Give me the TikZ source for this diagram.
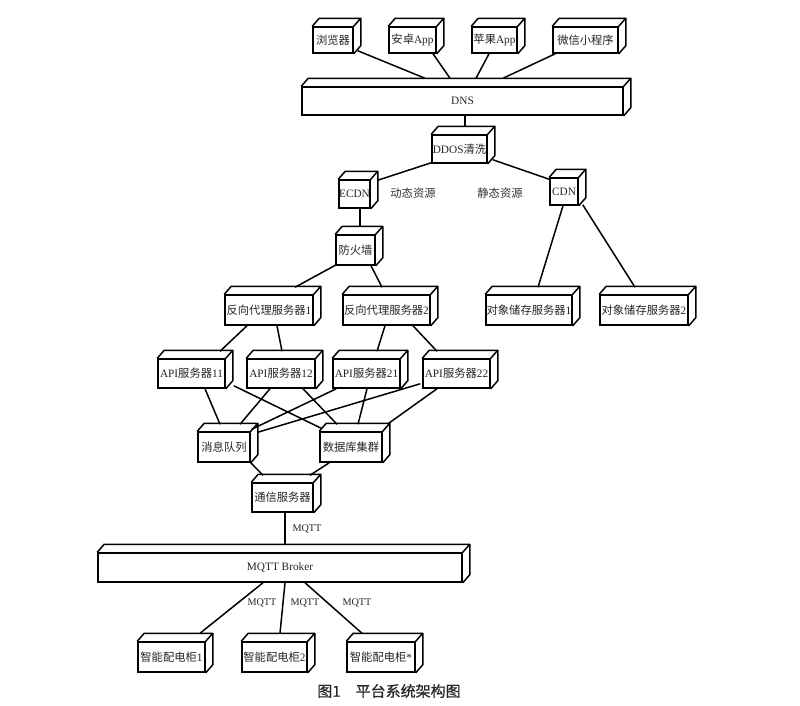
\documentclass[tikz,border=0pt]{standalone}
\usepackage{fontspec}
\setmainfont{Liberation Serif}
\newfontfamily\cjk{Noto Sans CJK SC}
\newfontfamily\capfont[FakeBold=0.6]{Noto Sans CJK SC}
\usetikzlibrary{calc}
\newcommand\lbl{\fontsize{11.3}{13}\selectfont}
\newcommand\mylbl{\fontsize{10.2}{12}\selectfont}
\newcommand\cubeparts[1]{%
  \draw[edge] (#1.north west) -- ++(7,-8) -- ($(#1.north east)+(7,-8)$) -- ($(#1.south east)+(7,-8)$) -- (#1.south east);
  \draw[edge] (#1.north east) -- ++(7,-8);}
\tikzset{
  cube/.style={draw, line width=1.5pt, inner sep=0pt, font=\lbl, fill=white, text=black!85},
  edge/.style={line width=1.5pt, line join=round},
  mqlabel/.style={font=\mylbl, text=black!85, inner sep=0pt},
  restext/.style={font=\lbl\cjk, text=black!80, inner sep=0pt}
}
\begin{document}
\begin{tikzpicture}[x=1pt,y=-1pt]
\useasboundingbox[fill=white] (0,0) rectangle (800,705);
% clients
\node[cube, minimum width=40pt, minimum height=26pt] (browser) at (333,40) {{\cjk 浏览器}};
\node[cube, minimum width=47pt, minimum height=26pt] (android) at (412.5,40) {{\cjk 安卓}App};
\node[cube, minimum width=45pt, minimum height=26pt] (apple) at (494.5,40) {{\cjk 苹果}App};
\node[cube, minimum width=65pt, minimum height=26pt] (wechat) at (585.5,40) {{\cjk 微信小程序}};
\node[cube, minimum width=321pt, minimum height=28pt] (dns) at (462.5,101) {DNS};
\node[cube, minimum width=55pt, minimum height=28pt] (ddos) at (459.5,149) {DDOS{\cjk 清洗}};
\node[cube, minimum width=31pt, minimum height=28pt] (ecdn) at (354.5,194) {ECDN};
\node[cube, minimum width=28pt, minimum height=27pt] (cdn) at (564,191.5) {CDN};
\node[cube, minimum width=39pt, minimum height=30pt] (fw) at (355.5,250) {{\cjk 防火墙}};
\node[cube, minimum width=88pt, minimum height=30pt] (rp1) at (269,310) {{\cjk 反向代理服务器}1};
\node[cube, minimum width=87pt, minimum height=30pt] (rp2) at (386.5,310) {{\cjk 反向代理服务器}2};
\node[cube, minimum width=86pt, minimum height=30pt] (os1) at (529,310) {{\cjk 对象储存服务器}1};
\node[cube, minimum width=88pt, minimum height=30pt] (os2) at (644,310) {{\cjk 对象储存服务器}2};
\node[cube, minimum width=67pt, minimum height=29pt] (api11) at (191.5,373.5) {API{\cjk 服务器}11};
\node[cube, minimum width=68pt, minimum height=29pt] (api12) at (281,373.5) {API{\cjk 服务器}12};
\node[cube, minimum width=67pt, minimum height=29pt] (api21) at (366.5,373.5) {API{\cjk 服务器}21};
\node[cube, minimum width=67pt, minimum height=29pt] (api22) at (456.5,373.5) {API{\cjk 服务器}22};
\node[cube, minimum width=52pt, minimum height=30pt] (mq) at (224,447) {{\cjk 消息队列}};
\node[cube, minimum width=62pt, minimum height=30pt] (db) at (351,447) {{\cjk 数据库集群}};
\node[cube, minimum width=61pt, minimum height=29pt] (comm) at (282.5,497.5) {{\cjk 通信服务器}};
\node[cube, minimum width=364pt, minimum height=29pt] (broker) at (280,567.5) {MQTT Broker};
\node[cube, minimum width=67pt, minimum height=30pt] (c1) at (171.5,657) {{\cjk 智能配电柜}1};
\node[cube, minimum width=65pt, minimum height=30pt] (c2) at (274.5,657) {{\cjk 智能配电柜}2};
\node[cube, minimum width=68pt, minimum height=30pt] (c3) at (381,657) {{\cjk 智能配电柜}*};
\foreach \n in {browser,android,apple,wechat,dns,ddos,ecdn,cdn,fw,rp1,rp2,os1,os2,api11,api12,api21,api22,mq,db,comm,broker,c1,c2,c3}{\cubeparts{\n}}
% connectors
\draw[edge] ($(browser.south east)+(4,-3)$) -- ($(dns.north)+(-37.5,-8)$);
\draw[edge] ($(android.south)+(20.5,0)$) -- ($(dns.north)+(-12.5,-8)$);
\draw[edge] ($(apple.south)+(-5.5,0)$) -- ($(dns.north)+(13.5,-8)$);
\draw[edge] ($(wechat.south west)+(3,0)$) -- ($(dns.north)+(40.5,-8)$);
\draw[edge] ($(dns.south)+(2.5,0)$) -- ($(ddos.north)+(5.5,-8)$);
\draw[edge] ($(ddos.south west)+(0,-1)$) -- ($(ecdn.north east)+(7,1)$);
\draw[edge] ($(ddos.south east)+(5,-4)$) -- ($(cdn.north west)+(0,2)$);
\draw[edge] ($(cdn.south)+(-1,0)$) -- ($(os1.north)+(9,-7)$);
\draw[edge] ($(cdn.south east)+(4,-1)$) -- ($(os2.north)+(-9,-7)$);
\draw[edge] ($(ecdn.south)+(5.5,0)$) -- ($(fw.north)+(4.5,-7)$);
\draw[edge] ($(fw.south west)+(1,-1)$) -- ($(rp1.north)+(26,-7)$);
\draw[edge] ($(fw.south)+(15.5,0)$) -- ($(rp2.north)+(-4.5,-7)$);
\draw[edge] ($(rp1.south)+(-22,0)$) -- ($(api11.north)+(28.5,-7)$);
\draw[edge] ($(rp1.south)+(8,0)$) -- ($(api12.north)+(1,-7)$);
\draw[edge] ($(rp2.south)+(-1.5,0)$) -- ($(api21.north)+(10.5,-7)$);
\draw[edge] ($(rp2.south)+(26.5,0)$) -- ($(api22.north)+(-19.5,-7)$);
\draw[edge] ($(api11.south)+(13.5,0)$) -- ($(mq.north)+(-4,-7)$);
\draw[edge] ($(api11.south east)+(8,-3)$) -- ($(db.north west)+(2,-3)$);
\draw[edge] ($(api12.south)+(-11,0)$) -- ($(mq.north)+(16,-7)$);
\draw[edge] ($(api12.south)+(22,0)$) -- ($(db.north)+(-14,-7)$);
\draw[edge] ($(api21.south west)+(4,0)$) -- ($(mq.north east)+(1,-2)$);
\draw[edge] ($(api21.south)+(0.5,0)$) -- ($(db.north)+(7,-7)$);
\draw[edge] ($(api22.south west)+(-2,-5)$) -- ($(mq.north east)+(7,1)$);
\draw[edge] ($(api22.south)+(-19.5,0)$) -- ($(db.north east)+(6,-8)$);
\draw[edge] (mq.south east) -- ($(comm.north)+(-19.5,-7)$);
\draw[edge] ($(db.south west)+(10,0)$) -- ($(comm.north)+(27.5,-7)$);
\draw[edge] ($(comm.south)+(2.5,0)$) -- ($(broker.north)+(5,-8)$);
\draw[edge] ($(broker.south)+(-17,0)$) -- ($(c1.north)+(28.5,-8)$);
\draw[edge] ($(broker.south)+(5,0)$) -- ($(c2.north)+(5.5,-8)$);
\draw[edge] ($(broker.south)+(25,0)$) -- ($(c3.north)+(-19,-8)$);
% labels
\node[restext] (dyn) at (413,193) {动态资源};
\node[restext] (sta) at (500,193) {静态资源};
\node[mqlabel] (m0) at (307,529) {MQTT};
\node[mqlabel] (m1) at (262,603) {MQTT};
\node[mqlabel] (m2) at (305,603) {MQTT};
\node[mqlabel] (m3) at (357,603) {MQTT};
\node[font=\fontsize{15}{17}\selectfont\capfont, text=black!85, inner sep=0pt] (cap) at (389,691) {图1\quad 平台系统架构图};
\end{tikzpicture}
\end{document}
